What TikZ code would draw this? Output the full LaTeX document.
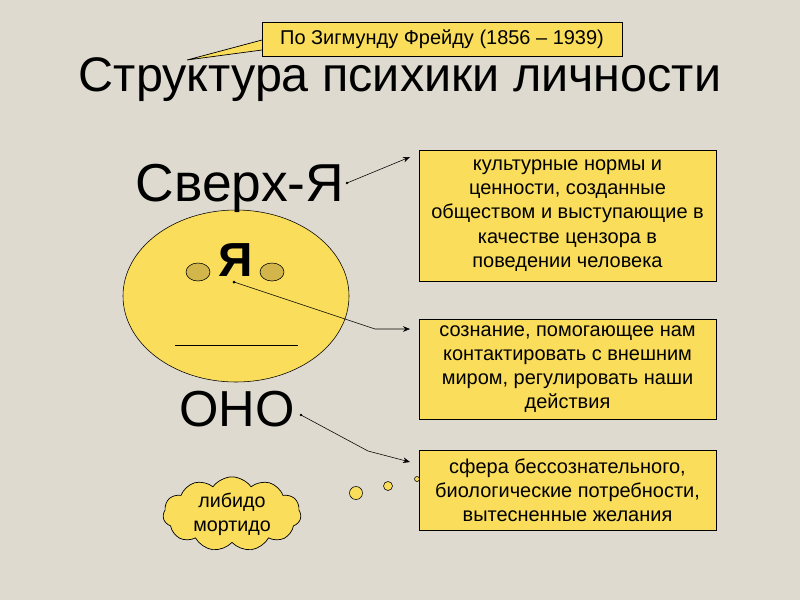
\documentclass[tikz,border=0pt]{standalone}
\usepackage{fontspec}
\setmainfont{Liberation Sans}
\usetikzlibrary{shapes.symbols,shapes.geometric,arrows.meta}
\definecolor{bg}{HTML}{DEDAD0}
\definecolor{yel}{HTML}{F9DD5B}
\definecolor{eye}{HTML}{D2B64C}
\tikzset{
  info/.style={draw=black,fill=yel,line width=0.6pt,align=center,font=\fontsize{14.2}{17.2}\selectfont,inner sep=0pt},
  conn/.style={draw=black,line width=0.4pt,-{Stealth[length=5pt,width=4pt]}}
}
\begin{document}
\begin{tikzpicture}[x=0.025cm,y=-0.025cm]
\fill[bg] (0,0) rectangle (800,600);
\useasboundingbox (0,0) rectangle (800,600);
% callout
\fill[yel,draw=black,line width=0.5pt] (262,40) -- (187,60) -- (262,50);
\node[info,minimum width=360*0.025cm,minimum height=34*0.025cm,font=\fontsize{14.2}{16}\selectfont] (cal) at (442,39) {По Зигмунду Фрейду (1856 – 1939)};
\fill[yel] (262.6,41) rectangle (264,49.5);
\node[font=\fontsize{34.5}{40}\selectfont] (title) at (400,80) {Структура психики личности};
% face
\node[draw=black,fill=yel,ellipse,minimum width=226*0.025cm,minimum height=172*0.025cm,inner sep=0pt,line width=0.4pt] (face) at (236,296) {};
\node[draw=black,fill=eye,ellipse,minimum width=24*0.025cm,minimum height=18*0.025cm,inner sep=0pt,line width=0.4pt] (eyel) at (198,272) {};
\node[draw=black,fill=eye,ellipse,minimum width=24*0.025cm,minimum height=18*0.025cm,inner sep=0pt,line width=0.4pt] (eyer) at (272,272) {};
\node[font=\fontsize{34}{36}\selectfont\bfseries] (ya) at (236,260) {Я};
\coordinate (m1) at (175,345); \coordinate (m2) at (298,345);
\draw[line width=0.5pt] (m1) -- (m2);
\node[font=\fontsize{38}{42}\selectfont] (sverh) at (240,188) {Сверх-Я};
\node[font=\fontsize{36}{40}\selectfont] (ono) at (237,409) {ОНО};
% boxes
\node[info,minimum width=297*0.025cm,minimum height=131*0.025cm] (b1) at (567.5,215.5) {культурные нормы и\\ценности, созданные\\обществом и выступающие в\\качестве цензора в\\поведении человека};
\node[info,minimum width=297*0.025cm,minimum height=100*0.025cm] (b2) at (567.5,369) {сознание, помогающее нам\\контактировать с внешним\\миром, регулировать наши\\действия};
\node[info,minimum width=297*0.025cm,minimum height=80*0.025cm] (b3) at (567.5,490) {сфера бессознательного,\\биологические потребности,\\вытесненные желания};
% connectors
\coordinate (s1) at (347,183); \coordinate (y1) at (234,282); \coordinate (o1) at (301,415);
\fill (s1) circle (1.3); \fill (y1) circle (1.5); \fill (o1) circle (1.3);
\draw[conn] (s1) -- (410,157);
\draw[conn] (y1) -- (375,329) -- (410,329);
\draw[conn] (o1) -- (368,451) -- (410,462);
% cloud
\node[cloud,cloud puffs=11,cloud puff arc=110,aspect=1.9,draw=black,fill=yel,line width=0.5pt,minimum width=138*0.025cm,minimum height=74*0.025cm,inner sep=0pt,align=center,font=\fontsize{14}{17}\selectfont] (cloud) at (232,514) {либидо\\мортидо};
\draw[fill=yel,line width=0.4pt] (356,493) circle (6.5);
\draw[fill=yel,line width=0.4pt] (388,486) circle (4.5);
\draw[fill=yel,line width=0.4pt] (417,479) circle (2.5);
\end{tikzpicture}
\end{document}
